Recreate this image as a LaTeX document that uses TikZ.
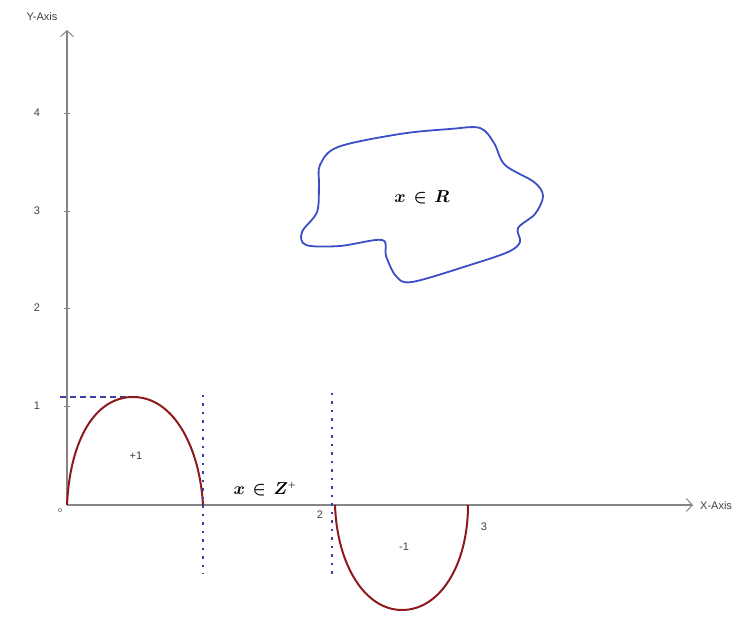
\documentclass[tikz,border=0pt]{standalone}
\usepackage{fontspec}
\usepackage{amsmath,bm}
\setmainfont{Liberation Sans}
\usetikzlibrary{arrows.meta}
\definecolor{axisgray}{HTML}{858585}
\definecolor{arcred}{HTML}{8E1A1E}
\definecolor{dotblue}{HTML}{3A3FA8}
\definecolor{blobblue}{HTML}{3C4EC6}
\begin{document}
\begin{tikzpicture}[x=1pt,y=-1pt,
  axis/.style={draw=axisgray,line width=1.5pt,-{Straight Barb[length=6pt,width=13pt,line width=1pt]}},
  lbl/.style={font=\fontsize{11}{13}\selectfont,text=black!75,inner sep=1pt},
  tickmark/.style={draw=axisgray,line width=0.8pt},
  wave/.style={draw=arcred,line width=2pt},
  dotline/.style={draw=dotblue,line width=1.8pt,dash pattern=on 2.5pt off 6pt},
  dashline/.style={draw=dotblue,line width=1.4pt,dash pattern=on 6pt off 4pt},
  mathlbl/.style={font=\fontsize{17}{19}\selectfont,inner sep=1pt}]
\useasboundingbox (0,0) rectangle (753,617);
% axes
\coordinate (O) at (67,505);
\coordinate (ytop) at (67,30);
\coordinate (xend) at (693,505);
\draw[axis] (O) -- (ytop);
\draw[axis] (O) -- (xend);
\node[lbl] (ylab) at (42,17) {Y-Axis};
\node[lbl,anchor=west] (xlab) at (699,506) {X-Axis};
% ticks
\foreach \v/\yy in {4/113,3/211,2/308,1/406}{
  \draw[tickmark] (64,\yy) -- (70,\yy);
  \node[lbl] (t\v) at (37,\yy) {\v};
}
\node[lbl] (zero) at (60,511) {\scriptsize o};
% dashed horizontal at 1
\coordinate (d1) at (60,397);
\coordinate (d2) at (133,397);
\draw[dashline] (d1) -- (d2);
% positive arc
\draw[wave] (O) .. controls (70,440) and (95,397) .. (133,397)
            .. controls (175,397) and (200,450) .. (203,505);
\node[lbl] (plus) at (136,456) {+1};
% dotted verticals
\coordinate (v1a) at (203,395);
\coordinate (v1b) at (203,574);
\draw[dotline] (v1a) -- (v1b);
\coordinate (v2a) at (332,393);
\coordinate (v2b) at (332,577);
\draw[dotline] (v2a) -- (v2b);
% negative arc
\draw[wave] (335,505) .. controls (337,565) and (365,610) .. (402,610)
            .. controls (440,610) and (468,565) .. (468,505);
\node[lbl] (two) at (320,515) {2};
\node[lbl] (three) at (484,527) {3};
\node[lbl] (minus) at (404,547) {-1};
\node[mathlbl] (zlab) at (265,489) {$\bm{x\,\in\,Z^{\scriptscriptstyle +}}$};
% blob
\draw[draw=blobblue,line width=1.8pt] plot[smooth cycle,tension=0.55] coordinates {
 (320,165) (338,147) (400,134) (450,129) (480,128) (494,143) (505,165)
 (534,182) (543,196) (535,214) (518,228) (520,242) (508,252) (470,265)
 (412,282) (396,276) (386,256) (382,240) (340,246) (306,245) (302,232)
 (317,212) (319,185)};
\node[mathlbl] (rlab) at (422,197) {$\bm{x\,\in\,R}$};
\end{tikzpicture}
\end{document}
